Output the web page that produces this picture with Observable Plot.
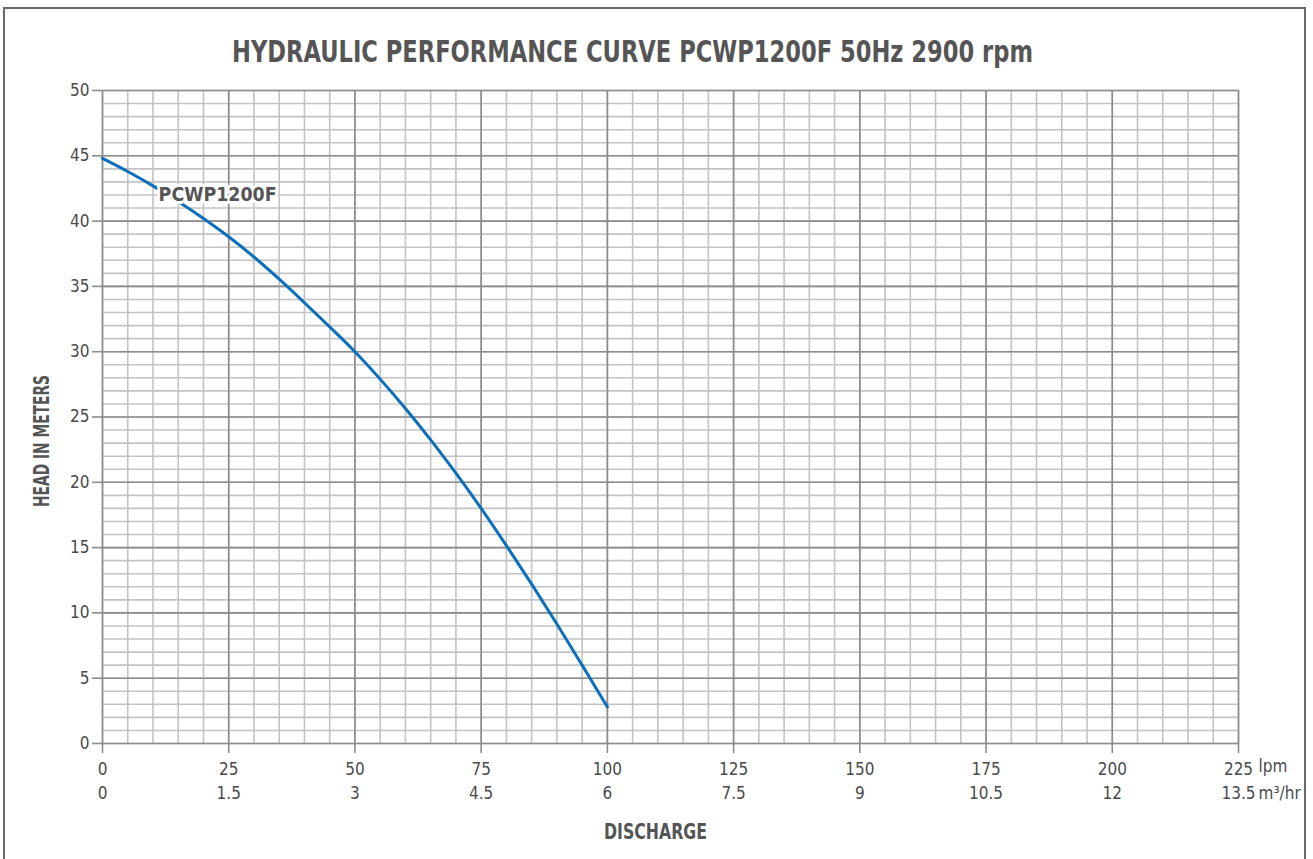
<!DOCTYPE html>
<html>
<head>
<meta charset="utf-8">
<script src="https://cdn.jsdelivr.net/npm/d3@7"></script>
<script src="https://cdn.jsdelivr.net/npm/@observablehq/plot@0.6"></script>
<style>
  html, body { margin: 0; padding: 0; background: #fff; }
  #wrap { position: relative; width: 1313px; height: 859px; overflow: hidden; }
  #border { position: absolute; left: 3px; top: 7px; width: 1303px; height: 900px; border: 2px solid #6a6a6a; box-sizing: border-box; }
  #chart { position: absolute; left: 0; top: 0; }
</style>
</head>
<body>
<div id="wrap"><div id="border"></div><div id="chart"></div></div>
<script>
// ---- data ----
const title = "HYDRAULIC PERFORMANCE CURVE PCWP1200F 50Hz 2900 rpm";
const seriesName = "PCWP1200F";
const xTitle = "DISCHARGE";
const yTitle = "HEAD IN METERS";
const flowLpm = [0, 5, 10, 15, 20, 25, 30, 35, 40, 45, 50, 55, 60, 65, 70, 75, 80, 85, 90, 95, 100];
const headM   = [44.8, 43.8, 42.7, 41.5, 40.2, 38.8, 37.25, 35.55, 33.75, 31.9, 30.0, 27.9, 25.65, 23.25, 20.7, 18.0, 15.15, 12.2, 9.15, 6.0, 2.8];
const lpmTicks  = [0, 25, 50, 75, 100, 125, 150, 175, 200, 225];
const m3Ticks   = ["0", "1.5", "3", "4.5", "6", "7.5", "9", "10.5", "12", "13.5"];
const headTicks = [0, 5, 10, 15, 20, 25, 30, 35, 40, 45, 50];
const minorLpm  = [0,5,10,15,20,25,30,35,40,45,50,55,60,65,70,75,80,85,90,95,100,105,110,115,120,125,130,135,140,145,150,155,160,165,170,175,180,185,190,195,200,205,210,215,220,225];
const minorHead = [0,1,2,3,4,5,6,7,8,9,10,11,12,13,14,15,16,17,18,19,20,21,22,23,24,25,26,27,28,29,30,31,32,33,34,35,36,37,38,39,40,41,42,43,44,45,46,47,48,49,50];
const labelPos = {x: 22.8, y: 42.0};

const curve = flowLpm.map((x, i) => ({x, y: headM[i]}));
const font = "'DejaVu Sans Condensed', 'Liberation Sans Narrow', 'Roboto', sans-serif";
const txt = "#555";
const tickTxt = "#4a4a4a";

const chart = Plot.plot({
  width: 1313,
  height: 859,
  marginLeft: 102,
  marginRight: 75,
  marginTop: 90,
  marginBottom: 116,
  x: {domain: [0, 225], axis: null},
  y: {domain: [0, 50], axis: null},
  style: {fontFamily: font, background: "transparent", overflow: "visible"},
  marks: [
    Plot.ruleX(minorLpm, {x: d => d, stroke: "#c3c3c3", strokeWidth: 1.6}),
    Plot.ruleY(minorHead, {y: d => d, stroke: "#c3c3c3", strokeWidth: 1.6}),
    Plot.ruleX(lpmTicks, {x: d => d, stroke: "#8c8c8c", strokeWidth: 1.6}),
    Plot.ruleY(headTicks, {y: d => d, stroke: "#8c8c8c", strokeWidth: 1.6}),
    Plot.axisY({ticks: headTicks, tickSize: 10, tickPadding: 3, label: null, fontSize: 17, color: tickTxt, stroke: "#8c8c8c", strokeWidth: 1.6}),
    Plot.axisX({ticks: lpmTicks, tickSize: 10, tickPadding: 9, label: null, fontSize: 17, color: tickTxt, stroke: "#8c8c8c", strokeWidth: 1.6, tickFormat: d => String(d)}),
    Plot.text(lpmTicks, {x: d => d, text: (d, i) => m3Ticks[i], frameAnchor: "bottom", dy: 55, fontSize: 17, fill: tickTxt}),
    Plot.text([225], {x: d => d, text: () => "lpm", frameAnchor: "bottom", dy: 28, dx: 20, textAnchor: "start", fontSize: 17, fill: tickTxt}),
    Plot.text([225], {x: d => d, text: () => "m³/hr", frameAnchor: "bottom", dy: 55, dx: 20, textAnchor: "start", fontSize: 17, fill: tickTxt}),
    // curve
    Plot.line(curve, {x: "x", y: "y", stroke: "#0a6fbd", strokeWidth: 3, curve: "catmull-rom"}),
    Plot.text([seriesName], {x: () => labelPos.x, y: () => labelPos.y, text: d => d, fontSize: 20, fontWeight: "bold", fill: txt, stroke: "white", strokeWidth: 6}),
    // titles
    Plot.text([title], {frameAnchor: "top", dx: -38, dy: -50, text: d => d, fontSize: 30, fontWeight: "bold", fill: txt}),
    Plot.text([xTitle], {frameAnchor: "bottom", dx: -15, dy: 95, text: d => d, fontSize: 21, fontWeight: "bold", fill: txt}),
    Plot.text([yTitle], {frameAnchor: "left", dx: -60, dy: 90, rotate: -90, text: d => d, fontSize: 21, fontWeight: "bold", fill: txt})
  ]
});
document.getElementById("chart").appendChild(chart);

// squeeze bold labels to the condensed widths of the original typeface
const targetWidths = new Map([[title, 801], [xTitle, 103], [yTitle, 132], [seriesName, 118]]);
chart.querySelectorAll("text").forEach(t => {
  const w = targetWidths.get(t.textContent);
  if (w) {
    t.setAttribute("textLength", w);
    t.setAttribute("lengthAdjust", "spacingAndGlyphs");
  }
});
</script>
</body>
</html>
